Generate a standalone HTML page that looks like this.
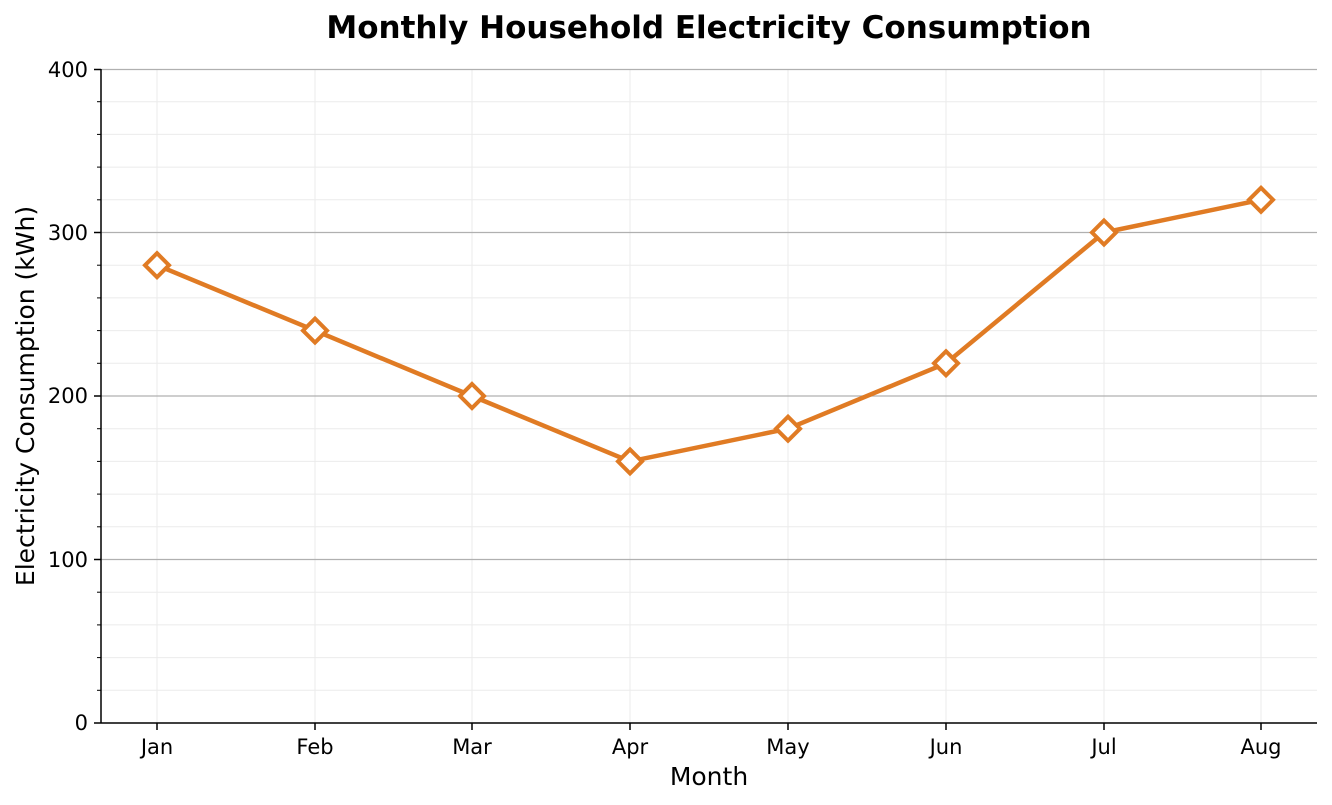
<!DOCTYPE html>
<html><head><meta charset="utf-8"><style>body{margin:0;background:#fff}svg{display:block}text{font-family:"DejaVu Sans","Liberation Sans",sans-serif;fill:#000}</style></head><body>
<svg width="1332" height="805" viewBox="0 0 1332 805">
<text x="709" y="38" font-size="31" font-weight="bold" text-anchor="middle">Monthly Household Electricity Consumption</text>
<g stroke="#ebebeb" stroke-width="1">
<line x1="101" x2="1317" y1="690.3" y2="690.3"/><line x1="101" x2="1317" y1="657.6" y2="657.6"/><line x1="101" x2="1317" y1="624.9" y2="624.9"/><line x1="101" x2="1317" y1="592.2" y2="592.2"/>
<line x1="101" x2="1317" y1="526.8" y2="526.8"/><line x1="101" x2="1317" y1="494.1" y2="494.1"/><line x1="101" x2="1317" y1="461.4" y2="461.4"/><line x1="101" x2="1317" y1="428.7" y2="428.7"/>
<line x1="101" x2="1317" y1="363.3" y2="363.3"/><line x1="101" x2="1317" y1="330.6" y2="330.6"/><line x1="101" x2="1317" y1="297.9" y2="297.9"/><line x1="101" x2="1317" y1="265.2" y2="265.2"/>
<line x1="101" x2="1317" y1="199.8" y2="199.8"/><line x1="101" x2="1317" y1="167.1" y2="167.1"/><line x1="101" x2="1317" y1="134.4" y2="134.4"/><line x1="101" x2="1317" y1="101.7" y2="101.7"/>
<line y1="69" y2="723" x1="157" x2="157"/><line y1="69" y2="723" x1="315" x2="315"/><line y1="69" y2="723" x1="472" x2="472"/><line y1="69" y2="723" x1="630" x2="630"/><line y1="69" y2="723" x1="788" x2="788"/><line y1="69" y2="723" x1="946" x2="946"/><line y1="69" y2="723" x1="1104" x2="1104"/><line y1="69" y2="723" x1="1261" x2="1261"/>
</g>
<g stroke="#b0b0b0" stroke-width="1.3">
<line x1="101" x2="1317" y1="69.5" y2="69.5"/><line x1="101" x2="1317" y1="232.5" y2="232.5"/><line x1="101" x2="1317" y1="396" y2="396"/><line x1="101" x2="1317" y1="559.5" y2="559.5"/>
</g>
<g stroke="#000" stroke-width="1.5">
<line x1="101" x2="101" y1="69" y2="723"/><line x1="101" x2="1317" y1="723" y2="723"/>
<line x1="94" x2="101" y1="723" y2="723"/><line x1="94" x2="101" y1="559.5" y2="559.5"/><line x1="94" x2="101" y1="396" y2="396"/><line x1="94" x2="101" y1="232.5" y2="232.5"/><line x1="94" x2="101" y1="69.5" y2="69.5"/>
<g stroke-width="1"><line x1="97" x2="101" y1="690.3" y2="690.3"/><line x1="97" x2="101" y1="657.6" y2="657.6"/><line x1="97" x2="101" y1="624.9" y2="624.9"/><line x1="97" x2="101" y1="592.2" y2="592.2"/><line x1="97" x2="101" y1="526.8" y2="526.8"/><line x1="97" x2="101" y1="494.1" y2="494.1"/><line x1="97" x2="101" y1="461.4" y2="461.4"/><line x1="97" x2="101" y1="428.7" y2="428.7"/><line x1="97" x2="101" y1="363.3" y2="363.3"/><line x1="97" x2="101" y1="330.6" y2="330.6"/><line x1="97" x2="101" y1="297.9" y2="297.9"/><line x1="97" x2="101" y1="265.2" y2="265.2"/><line x1="97" x2="101" y1="199.8" y2="199.8"/><line x1="97" x2="101" y1="167.1" y2="167.1"/><line x1="97" x2="101" y1="134.4" y2="134.4"/><line x1="97" x2="101" y1="101.7" y2="101.7"/></g>
<line y1="723" y2="730" x1="157" x2="157"/><line y1="723" y2="730" x1="315" x2="315"/><line y1="723" y2="730" x1="472" x2="472"/><line y1="723" y2="730" x1="630" x2="630"/><line y1="723" y2="730" x1="788" x2="788"/><line y1="723" y2="730" x1="946" x2="946"/><line y1="723" y2="730" x1="1104" x2="1104"/><line y1="723" y2="730" x1="1261" x2="1261"/>
</g>
<g font-size="21" text-anchor="end">
<text x="88" y="730">0</text><text x="88" y="567">100</text><text x="88" y="403">200</text><text x="88" y="240">300</text><text x="88" y="77">400</text>
</g>
<g font-size="21" text-anchor="middle">
<text x="157" y="754">Jan</text><text x="315" y="754">Feb</text><text x="472" y="754">Mar</text><text x="630" y="754">Apr</text><text x="788" y="754">May</text><text x="946" y="754">Jun</text><text x="1104" y="754">Jul</text><text x="1261" y="754">Aug</text>
</g>
<text x="709" y="785" font-size="25" text-anchor="middle">Month</text>
<text transform="translate(34,396) rotate(-90)" font-size="25" text-anchor="middle">Electricity Consumption (kWh)</text>
<polyline fill="none" stroke="#e07b24" stroke-width="4.5" stroke-linejoin="round" points="157,265.2 315,330.6 472,396 630,461.4 788,428.7 946,363.3 1104,232.5 1261,199.8"/>
<g fill="#fff" stroke="#e07b24" stroke-width="4">
<path d="M157,253.2l12,12l-12,12l-12,-12z"/><path d="M315,318.6l12,12l-12,12l-12,-12z"/><path d="M472,384l12,12l-12,12l-12,-12z"/><path d="M630,449.4l12,12l-12,12l-12,-12z"/><path d="M788,416.7l12,12l-12,12l-12,-12z"/><path d="M946,351.3l12,12l-12,12l-12,-12z"/><path d="M1104,220.5l12,12l-12,12l-12,-12z"/><path d="M1261,187.8l12,12l-12,12l-12,-12z"/>
</g>
</svg>
</body></html>
